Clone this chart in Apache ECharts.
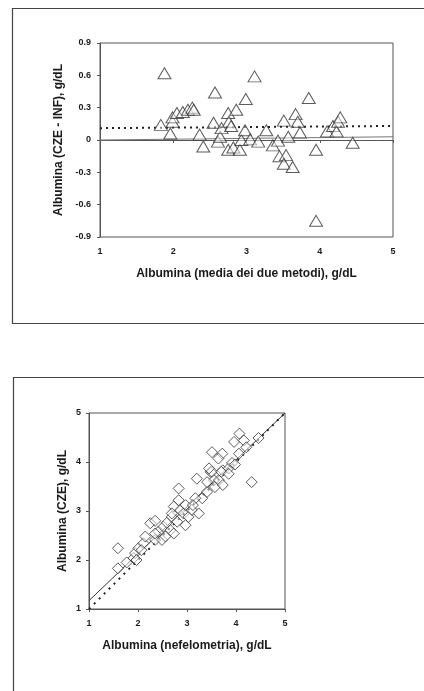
<!DOCTYPE html>
<html>
<head>
<meta charset="utf-8">
<script src="https://cdn.jsdelivr.net/npm/echarts@6/dist/echarts.min.js"></script>
<style>
html,body{margin:0;padding:0;background:#fff;}
#c{width:424px;height:691px;}
</style>
</head>
<body>
<div id="c"></div>
<script>
// ---- Chart 1: Bland-Altman (difference vs mean) ----
const baMean = [1.88,1.83,1.96,1.99,1.99,2.05,2.13,2.20,2.26,2.28,2.36,2.41,2.57,2.55,2.61,2.64,2.66,2.75,2.76,2.79,2.86,2.75,2.82,2.91,2.93,2.98,2.99,3.11,3.05,3.16,3.27,3.36,3.43,3.45,3.51,3.54,3.51,3.57,3.63,3.67,3.70,3.73,3.85,3.95,3.95,4.10,4.18,4.23,4.25,4.28,4.45];
const baDiff = [0.62,0.14,0.06,0.17,0.21,0.25,0.26,0.28,0.30,0.28,0.05,-0.06,0.44,0.16,-0.015,0.03,0.11,0.25,0.17,0.13,0.28,-0.09,-0.07,-0.09,0.0,0.09,0.38,0.59,0.006,-0.015,0.09,-0.05,-0.006,-0.15,0.18,-0.14,-0.22,0.03,-0.25,0.24,0.17,0.07,0.39,-0.09,-0.75,0.08,0.13,0.08,0.17,0.21,-0.025];
const baSolidX = [1,5];
const baSolidY = [0.0,0.03];
const baDottedX = [1,5];
const baDottedY = [0.11,0.13];
const baXTicks = ['1','2','3','4','5'];
const baYTicks = ['-0.9','-0.6','-0.3','0','0.3','0.6','0.9'];

// ---- Chart 2: CZE vs nephelometry ----
const nefX = [1.59,1.59,1.77,1.91,1.94,2.01,2.11,2.15,1.97,2.07,2.25,2.35,2.35,2.42,2.52,2.49,2.59,2.66,2.69,2.73,2.73,2.69,2.83,2.83,2.86,2.80,2.93,2.97,3.03,3.10,3.20,3.24,3.31,3.17,3.41,3.51,3.48,3.55,3.57,3.65,3.72,3.64,3.73,3.73,3.85,3.92,3.98,3.96,4.07,4.06,4.16,4.21,4.32,4.46,3.41,3.51,3.12,2.97,2.56,2.35,3.45,3.70,3.85];
const czeY = [2.24,1.83,1.95,2.04,2.14,2.24,2.34,2.48,2.00,2.20,2.75,2.80,2.41,2.58,2.68,2.41,2.76,2.61,2.88,2.54,3.09,2.95,3.46,3.22,3.02,2.78,2.95,3.12,2.88,3.02,3.66,2.95,3.26,3.26,3.39,4.20,3.80,3.63,3.49,3.63,4.17,4.07,3.53,3.83,3.87,3.98,3.95,4.41,4.58,4.17,4.44,4.30,3.59,4.49,3.59,3.80,3.12,2.71,2.48,2.54,3.87,3.80,3.76];
const regX = [1,5];
const regY = [1.17,5.0];
const idX = [1,5];
const idY = [1,5];
const cmpTicks = ['1','2','3','4','5'];

const zip = (a,b) => a.map((v,i)=>[v,b[i]]);
const FONT = '"Liberation Sans", Arial, sans-serif';
const INK = '#1a1a1a';
const LINE = '#555';

function axisCommon(labelMargin){
  return {
    axisLine:{show:true,lineStyle:{color:LINE,width:1}},
    axisTick:{show:true,length:3,inside:false,lineStyle:{color:LINE}},
    splitLine:{show:false},
    axisLabel:{color:INK,fontSize:9,fontWeight:'bold',fontFamily:FONT,margin:labelMargin},
    nameTextStyle:{color:INK,fontSize:12,fontWeight:'bold',fontFamily:FONT},
    nameLocation:'middle'
  };
}
function tickFmt(ticks, min, step){
  return v => { const i = Math.round((v-min)/step); return ticks[i] !== undefined ? ticks[i] : ''; };
}

const chart = echarts.init(document.getElementById('c'), null, {renderer:'canvas'});
chart.setOption({
  backgroundColor:'#fff',
  animation:false,
  graphic:[
    {type:'rect',shape:{x:12.5,y:8.5,width:430,height:315},style:{fill:'none',stroke:'#444',lineWidth:1.2},z:0},
    {type:'rect',shape:{x:13.5,y:377.5,width:430,height:330},style:{fill:'none',stroke:'#444',lineWidth:1.2},z:0}
  ],
  grid:[
    {left:100,top:43,width:293,height:194,show:true,borderColor:LINE,borderWidth:1,backgroundColor:'transparent'},
    {left:89,top:413,width:196,height:196,show:true,borderColor:LINE,borderWidth:1,backgroundColor:'transparent'}
  ],
  xAxis:[
    Object.assign(axisCommon(10),{gridIndex:0,type:'value',min:1,max:5,interval:1,
      name:'Albumina (media dei due metodi), g/dL',nameGap:31,
      axisLabel:Object.assign(axisCommon(10).axisLabel,{formatter:tickFmt(baXTicks,1,1)})}),
    Object.assign(axisCommon(10),{gridIndex:1,type:'value',min:1,max:5,interval:1,
      name:'Albumina (nefelometria), g/dL',nameGap:31,
      axisLabel:Object.assign(axisCommon(10).axisLabel,{formatter:tickFmt(cmpTicks,1,1)})})
  ],
  yAxis:[
    Object.assign(axisCommon(9),{gridIndex:0,type:'value',min:-0.9,max:0.9,interval:0.3,
      name:'Albumina (CZE - INF), g/dL',nameGap:34,
      axisLabel:Object.assign(axisCommon(9).axisLabel,{formatter:tickFmt(baYTicks,-0.9,0.3)})}),
    Object.assign(axisCommon(8),{gridIndex:1,type:'value',min:1,max:5,interval:1,
      name:'Albumina (CZE), g/dL',nameGap:20,
      axisLabel:Object.assign(axisCommon(8).axisLabel,{formatter:tickFmt(cmpTicks,1,1)})})
  ],
  series:[
    {type:'line',xAxisIndex:0,yAxisIndex:0,data:zip(baSolidX,baSolidY),symbol:'none',
      lineStyle:{color:'#777',width:1},z:1},
    {type:'line',xAxisIndex:0,yAxisIndex:0,data:zip(baDottedX,baDottedY),symbol:'none',
      lineStyle:{color:'#222',width:2,type:[2,4]},z:1},
    {type:'scatter',xAxisIndex:0,yAxisIndex:0,data:zip(baMean,baDiff),symbol:'triangle',symbolSize:[13,11],
      itemStyle:{color:'rgba(255,255,255,0.6)',borderColor:'#333',borderWidth:1},z:3},
    {type:'line',xAxisIndex:1,yAxisIndex:1,data:zip(regX,regY),symbol:'none',
      lineStyle:{color:'#333',width:1},z:1},
    {type:'line',xAxisIndex:1,yAxisIndex:1,data:zip(idX,idY),symbol:'none',
      lineStyle:{color:'#222',width:2,type:[2,5]},z:1},
    {type:'scatter',xAxisIndex:1,yAxisIndex:1,data:zip(nefX,czeY),symbol:'diamond',symbolSize:[11,11],
      itemStyle:{color:'rgba(255,255,255,0.6)',borderColor:'#333',borderWidth:1},z:3}
  ]
});
</script>
</body>
</html>
